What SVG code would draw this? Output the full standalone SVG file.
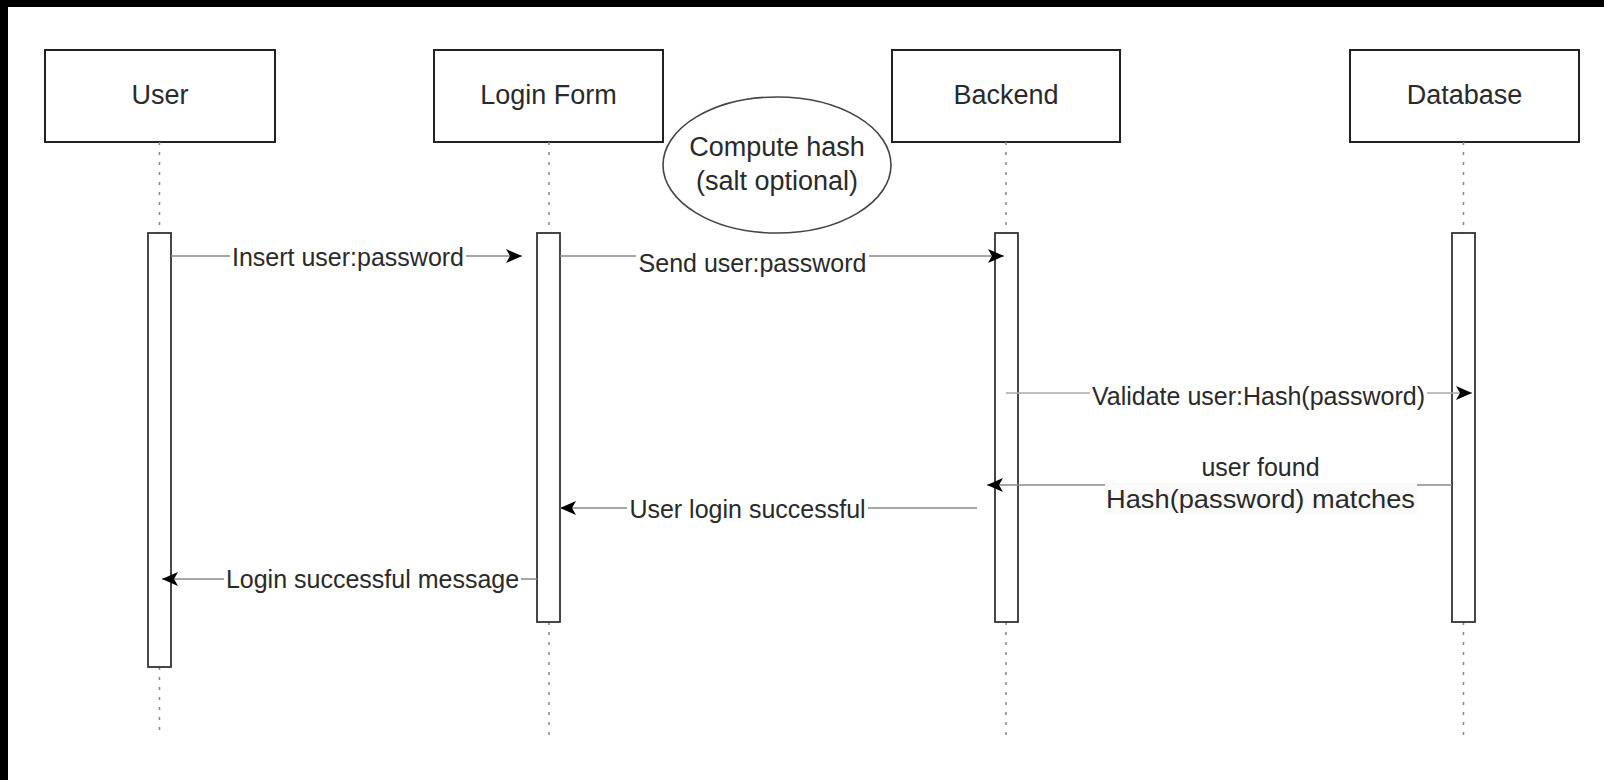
<svg xmlns="http://www.w3.org/2000/svg" width="1604" height="780" viewBox="0 0 1604 780">
<style>
  .box{fill:#fff;stroke:#222;stroke-width:2}
  .bar{fill:#fff;stroke:#333;stroke-width:1.8}
  .life{stroke:#888;stroke-width:1.5;stroke-dasharray:3 7;fill:none}
  .title{font-family:"Liberation Sans",Arial,sans-serif;font-size:27px;fill:#2a2a2a;text-anchor:middle}
  .lbl{font-family:"Liberation Sans",Arial,sans-serif;font-size:25px;fill:#2a2a2a;text-anchor:middle}
  .msg{stroke:#888;stroke-width:1.4;fill:none;marker-end:url(#arr)}
  .bg{fill:#fff}
</style>
<defs>
  <marker id="arr" viewBox="0 0 16 14" markerWidth="16" markerHeight="14" refX="16" refY="7" orient="auto" markerUnits="userSpaceOnUse">
    <path d="M0,0 L16,7 L0,14 L4,7 Z" fill="#000"/>
  </marker>
</defs>
<rect x="0" y="0" width="1604" height="780" fill="#fff"/>
<rect x="0" y="0" width="1604" height="7" fill="#000"/>
<rect x="0" y="0" width="8" height="780" fill="#000"/>

<g id="user">
  <rect class="box" x="45" y="50" width="230" height="92"/>
  <text class="title" x="160" y="104">User</text>
  <line class="life" x1="159.5" y1="142" x2="159.5" y2="233"/>
  <line class="life" x1="159.5" y1="667" x2="159.5" y2="736"/>
  <rect class="bar" x="148" y="233" width="23" height="434"/>
</g>
<g id="loginform">
  <rect class="box" x="434" y="50" width="229" height="92"/>
  <text class="title" x="548.5" y="104">Login Form</text>
  <line class="life" x1="549" y1="142" x2="549" y2="233"/>
  <line class="life" x1="549" y1="622" x2="549" y2="736"/>
  <rect class="bar" x="537" y="233" width="23" height="389"/>
</g>
<g id="backend">
  <rect class="box" x="892" y="50" width="228" height="92"/>
  <text class="title" x="1006" y="104">Backend</text>
  <line class="life" x1="1006" y1="142" x2="1006" y2="233"/>
  <line class="life" x1="1006" y1="622" x2="1006" y2="736"/>
  <rect class="bar" x="995" y="233" width="23" height="389"/>
</g>
<g id="database">
  <rect class="box" x="1350" y="50" width="229" height="92"/>
  <text class="title" x="1464.5" y="104">Database</text>
  <line class="life" x1="1463.5" y1="142" x2="1463.5" y2="233"/>
  <line class="life" x1="1463.5" y1="622" x2="1463.5" y2="736"/>
  <rect class="bar" x="1452" y="233" width="23" height="389"/>
</g>
<g id="hashnote">
  <ellipse cx="777" cy="165" rx="114" ry="68" fill="#fff" stroke="#444" stroke-width="1.6"/>
  <text class="title" x="777" y="156">Compute hash</text>
  <text class="title" x="777" y="190">(salt optional)</text>
</g>

<g id="connectors">
  <line class="msg" x1="171" y1="256" x2="522" y2="256"/>
  <line class="msg" x1="560" y1="256" x2="1004" y2="256"/>
  <line class="msg" x1="1006" y1="393" x2="1472" y2="393" style="stroke:#aaa"/>
  <line class="msg" x1="1452" y1="485" x2="987" y2="485"/>
  <line class="msg" x1="977" y1="508" x2="560" y2="508"/>
  <line class="msg" x1="537" y1="579" x2="162" y2="579"/>

  <rect class="bg" x="230" y="245" width="236" height="25"/>
  <text class="lbl" x="348" y="266">Insert user:password</text>

  <rect class="bg" x="636" y="254" width="233" height="24"/>
  <text class="lbl" x="752.5" y="272">Send user:password</text>

  <rect class="bg" x="1090" y="383" width="337" height="27"/>
  <text class="lbl" x="1258.5" y="405">Validate user:Hash(password)</text>

  <rect x="1105" y="483" width="312" height="31" fill="#fafafa"/>
  <text class="lbl" x="1260.5" y="476">user found</text>
  <text class="lbl" x="1260.5" y="508" textLength="309" lengthAdjust="spacingAndGlyphs">Hash(password) matches</text>

  <rect class="bg" x="627" y="496" width="241" height="26"/>
  <text class="lbl" x="747.5" y="518">User login successful</text>

  <rect class="bg" x="224" y="567" width="297" height="26"/>
  <text class="lbl" x="372.5" y="588">Login successful message</text>
</g>
</svg>
